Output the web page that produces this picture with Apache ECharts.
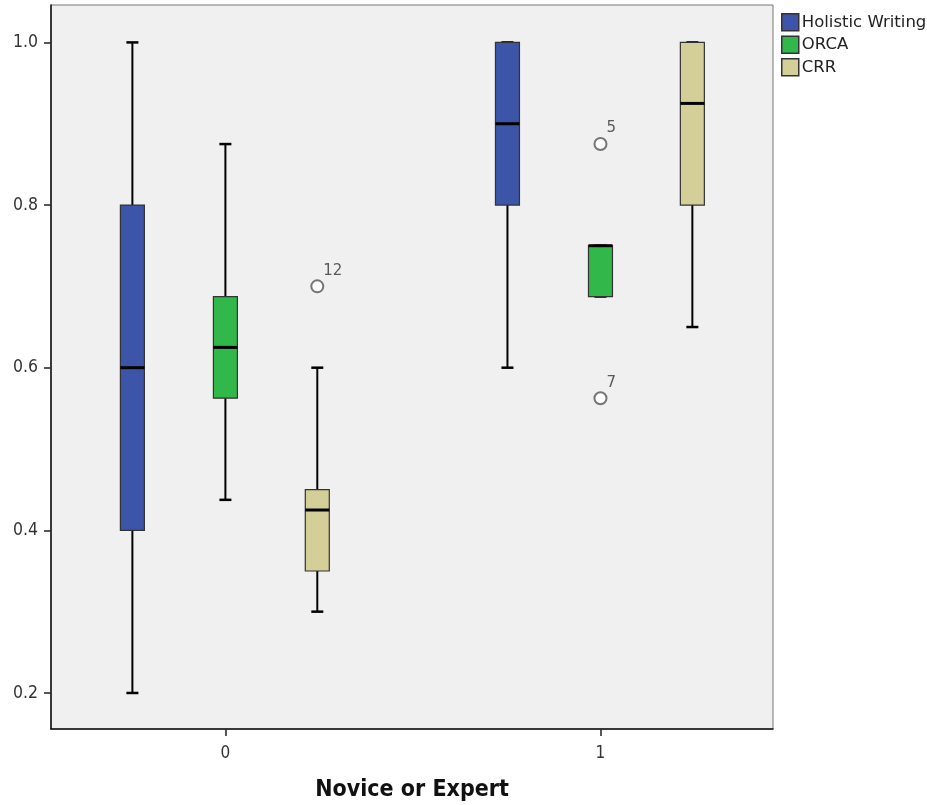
<!DOCTYPE html>
<html>
<head>
<meta charset="utf-8">
<script src="https://cdn.jsdelivr.net/npm/echarts@6/dist/echarts.min.js"></script>
<style>
html,body{margin:0;padding:0;background:#fff;}
#chart{width:927px;height:805px;}
</style>
</head>
<body>
<div id="chart"></div>
<script>
// ---- data ----
const categories = ['0', '1'];
const seriesNames = ['Holistic Writing', 'ORCA', 'CRR'];
// [min, Q1, median, Q3, max] per category
const holistic = [[0.2, 0.4, 0.6, 0.8, 1.0], [0.6, 0.8, 0.9, 1.0, 1.0]];
const orca = [[0.4375, 0.5625, 0.625, 0.6875, 0.875], [0.6875, 0.6875, 0.75, 0.75, 0.75]];
const crr = [[0.3, 0.35, 0.425, 0.45, 0.6], [0.65, 0.8, 0.925, 1.0, 1.0]];
const outlierSeries = ['CRR', 'ORCA', 'ORCA'];
const outlierCats = [0, 1, 1];
const outlierValues = [0.7, 0.875, 0.5625];
const outlierIds = ['12', '5', '7'];
const yTicks = [0.2, 0.4, 0.6, 0.8, 1.0];
const xTitle = 'Novice or Expert';

// ---- styling ----
const colors = ['#3d55a9', '#31b74a', '#d4cf98'];
const offsets = [-0.248, 0, 0.245]; // group offset in axis units
const boxHalf = 12, capHalf = 6;
const tickFont = "'DejaVu Sans Condensed', 'DejaVu Sans', sans-serif";

function makeRender(k) {
  return function (params, api) {
    const c = api.value(0) + offsets[k];
    const p = i => api.coord([c, api.value(i)]);
    const pMin = p(1), pQ1 = p(2), pMed = p(3), pQ3 = p(4), pMax = p(5);
    const x = pMin[0];
    const lineStyle = { stroke: '#000', lineWidth: 2 };
    return {
      type: 'group',
      children: [
        { type: 'line', shape: { x1: x, y1: pQ3[1], x2: x, y2: pMax[1] }, style: lineStyle },
        { type: 'line', shape: { x1: x, y1: pQ1[1], x2: x, y2: pMin[1] }, style: lineStyle },
        { type: 'line', shape: { x1: x - capHalf, y1: pMax[1], x2: x + capHalf, y2: pMax[1] }, style: { stroke: '#000', lineWidth: 2.5 } },
        { type: 'line', shape: { x1: x - capHalf, y1: pMin[1], x2: x + capHalf, y2: pMin[1] }, style: { stroke: '#000', lineWidth: 2.5 } },
        { type: 'rect', shape: { x: x - boxHalf, y: pQ3[1], width: boxHalf * 2, height: pQ1[1] - pQ3[1] },
          style: { fill: colors[k], stroke: '#333', lineWidth: 1.2 } },
        { type: 'line', shape: { x1: x - boxHalf, y1: pMed[1], x2: x + boxHalf, y2: pMed[1] }, style: { stroke: '#000', lineWidth: 3 } }
      ]
    };
  };
}

const boxData = [holistic, orca, crr];
const series = boxData.map((d, k) => ({
  name: seriesNames[k],
  type: 'custom',
  renderItem: makeRender(k),
  itemStyle: { color: colors[k], borderColor: '#333', borderWidth: 1.5 },
  encode: { x: 0, y: [1, 2, 3, 4, 5] },
  data: d.map((v, i) => [i].concat(v))
}));

series.push({
  name: 'outliers',
  type: 'scatter',
  symbol: 'emptyCircle',
  symbolSize: 12,
  itemStyle: { color: '#555', borderWidth: 1.5 },
  label: {
    show: true,
    position: [13, -16],
    formatter: p => p.data[2],
    fontFamily: 'DejaVu Sans',
    fontSize: 15,
    color: '#333'
  },
  data: outlierValues.map((v, i) => [outlierCats[i] + offsets[seriesNames.indexOf(outlierSeries[i])], v, outlierIds[i]])
});

const chart = echarts.init(document.getElementById('chart'), null, { renderer: 'canvas' });
chart.setOption({
  animation: false,
  backgroundColor: '#fff',
  grid: {
    left: 51, top: 5, width: 722, height: 724,
    outerBoundsMode: 'none',
    containLabel: false,
    show: true, backgroundColor: '#f0f0f0', borderColor: '#777', borderWidth: 1
  },
  legend: {
    data: seriesNames,
    orient: 'vertical',
    left: 776, top: 8,
    itemWidth: 17, itemHeight: 17, itemGap: 4,
    icon: 'rect',
    itemStyle: { borderColor: '#333', borderWidth: 1.5 },
    textStyle: { fontFamily: 'DejaVu Sans', fontSize: 16.5, color: '#222', padding: [0, 0, 0, -2] }
  },
  xAxis: {
    type: 'value',
    min: -0.465, max: 1.46,
    name: xTitle,
    nameLocation: 'middle',
    nameGap: 50,
    nameTextStyle: { fontFamily: 'DejaVu Sans Condensed, DejaVu Sans', fontWeight: 'bold', fontSize: 23, color: '#111' },
    axisLine: { show: true, onZero: false, lineStyle: { color: '#111', width: 1.5 } },
    axisTick: { show: true, length: 7, customValues: [0, 1], lineStyle: { color: '#222', width: 1.5 } },
    axisLabel: { customValues: [0, 1], formatter: v => categories[Math.round(v)], margin: 16,
      fontFamily: tickFont, fontSize: 17, color: '#333' },
    splitLine: { show: false }
  },
  yAxis: {
    type: 'value',
    min: 0.1557, max: 1.046,
    axisLine: { show: true, onZero: false, lineStyle: { color: '#111', width: 1.5 } },
    axisTick: { show: true, length: 7, customValues: yTicks, lineStyle: { color: '#222', width: 1.5 } },
    axisLabel: { customValues: yTicks, formatter: v => v.toFixed(1), margin: 13,
      fontFamily: tickFont, fontSize: 17.5, color: '#333' },
    splitLine: { show: false }
  },
  series: series
});
</script>
</body>
</html>
